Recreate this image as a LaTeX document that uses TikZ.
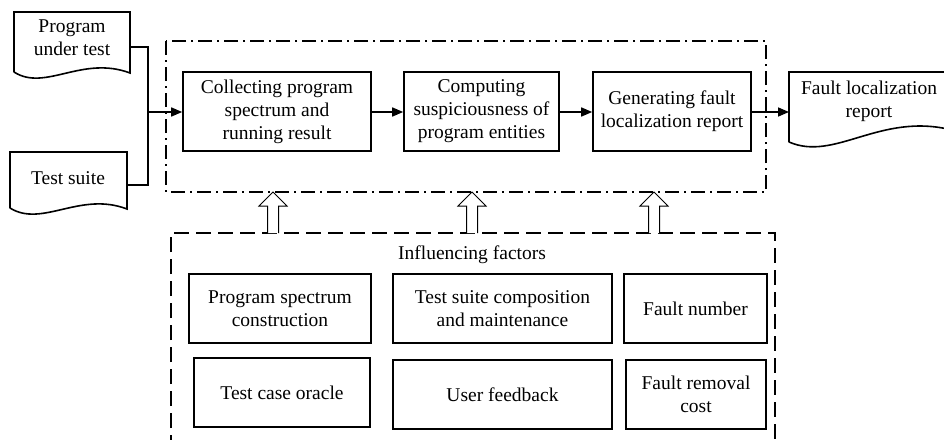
\documentclass[tikz,border=0pt]{standalone}
\usepackage{fontspec}
\setmainfont{Liberation Serif}
\usetikzlibrary{arrows.meta}
\begin{document}
\begin{tikzpicture}[x=1pt,y=-1pt,
  every node/.style={font=\fontsize{19.5}{23}\selectfont, align=center, inner sep=0pt},
  box/.style={draw, line width=1.6pt},
  docline/.style={line width=1.6pt, line join=miter},
  conn/.style={line width=1.6pt, -{Triangle[length=11pt,width=9pt]}},
  wire/.style={line width=1.6pt},
  dashdotbox/.style={line width=1.6pt, dash pattern=on 14pt off 5pt on 2pt off 5pt},
  dashbox/.style={line width=1.6pt, dash pattern=on 15pt off 7pt},
  hollow/.style={line width=1pt, fill=white, line join=miter}]
\useasboundingbox (0,0) rectangle (944,439);
\begin{scope}
\clip (0,0) rectangle (944,439);

% document shapes
\draw[docline] (14,72) -- (14,12) -- (130,12) -- (130,73)
  .. controls (82,55) and (45,92) .. (14,72);
\node (put) at (72,37.5) {Program\\under test};

\draw[docline] (10,208) -- (10,152) -- (127,152) -- (127,209)
  .. controls (80,191) and (42,228) .. (10,208);
\node (ts) at (68,178) {Test suite};

\draw[docline] (789,142) -- (789,72) -- (952,72) -- (952,130)
  .. controls (880,112) and (835,162) .. (789,142);
\node (flr) at (869,101) {Fault localization\\report};

% dash-dot frame
\draw[dashdotbox] (166,41) rectangle (766,192);

% process boxes
\node[box, minimum width=188pt, minimum height=79pt] (c1) at (277,111.5)
  {Collecting program\\spectrum and\\running result};
\node[box, minimum width=155pt, minimum height=79pt] (c2) at (481.5,111.5)
  {Computing\\suspiciousness of\\program entities};
\node[box, minimum width=158pt, minimum height=79pt] (c3) at (672,111.5)
  {Generating fault\\localization report};

% inputs
\coordinate (putout) at (130,47);
\coordinate (tsout) at (127,185);
\coordinate (join) at (148,112);
\coordinate (flrin) at (789,112);
\draw[wire] (putout) -| (join);
\draw[wire] (tsout) -| (join);
\draw[conn] (join) -- (c1.west |- join);
\draw[conn] (c1.east |- join) -- (c2.west |- join);
\draw[conn] (c2.east |- join) -- (c3.west |- join);
\draw[conn] (c3.east |- join) -- (flrin);

% dashed frame of influencing factors
\draw[dashbox] (171,450) -- (171,233) -- (775,233) -- (775,450);
\node (inf) at (472,255) {Influencing factors};

\node[box, minimum width=182pt, minimum height=69pt] (f1) at (280,308.5)
  {Program spectrum\\construction};
\node[box, minimum width=219pt, minimum height=69pt] (f2) at (502.5,308.5)
  {Test suite composition\\and maintenance};
\node[box, minimum width=143pt, minimum height=69pt] (f3) at (695.5,308.5)
  {Fault number};
\node[box, minimum width=176pt, minimum height=69pt] (f4) at (282,392.5)
  {Test case oracle};
\node[box, minimum width=219pt, minimum height=69pt] (f5) at (502.5,394.5)
  {User feedback};
\node[box, minimum width=140pt, minimum height=69pt] (f6) at (696,394.5)
  {Fault removal\\cost};

% hollow block arrows
\foreach \cx in {273,472,654}{
  \draw[hollow] (\cx-5.5,233) -- (\cx-5.5,206) -- (\cx-14,206) -- (\cx,192)
    -- (\cx+14,206) -- (\cx+5.5,206) -- (\cx+5.5,233);
}
\end{scope}
\end{tikzpicture}
\end{document}
